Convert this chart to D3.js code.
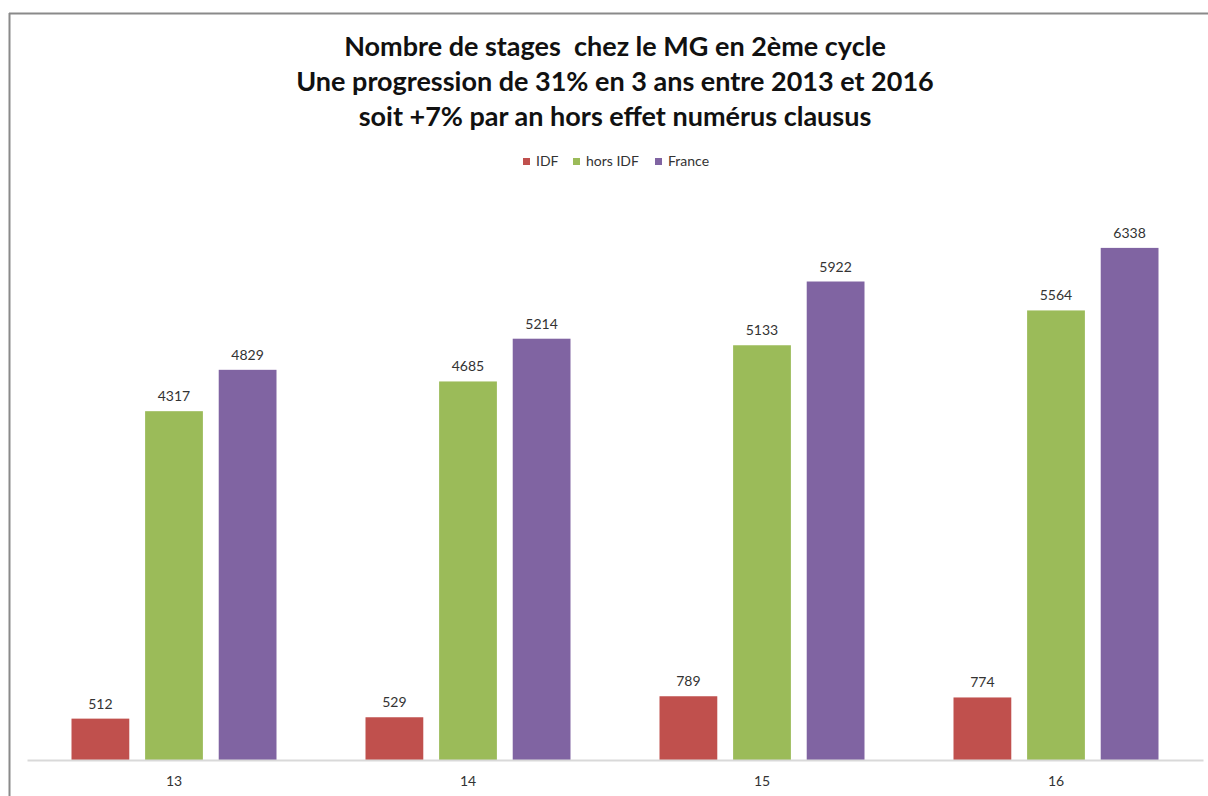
<!DOCTYPE html>
<html>
<head>
<meta charset="utf-8">
<script src="https://cdn.jsdelivr.net/npm/d3@7"></script>
<style>
  body { margin: 0; background: #fff; }
  svg { display: block; }
  text { font-family: Lato, "Open Sans", sans-serif; }
</style>
</head>
<body>
<div id="graph"></div>
<script>
// data
var categories = ['13', '14', '15', '16'];
var seriesNames = ['IDF', 'hors IDF', 'France'];
var seriesColors = ['#C0504D', '#9BBB59', '#8064A2'];
var idf = [512, 529, 789, 774];
var horsIdf = [4317, 4685, 5133, 5564];
var france = [4829, 5214, 5922, 6338];
var titleLines = [
    'Nombre de stages  chez le MG en 2ème cycle',
    'Une progression de 31% en 3 ans entre 2013 et 2016',
    'soit +7% par an hors effet numérus clausus'
];

var width = 1208, height = 796;
var seriesValues = [idf, horsIdf, france];

var svg = d3.select('#graph')
            .append('svg')
            .attr('width', width)
            .attr('height', height);

// frame lines (top and left)
svg.append('line')
   .attr('x1', 9).attr('y1', 13.5).attr('x2', width).attr('y2', 13.5)
   .style('stroke', '#8a8a8a').style('stroke-width', 2);
svg.append('line')
   .attr('x1', 9.5).attr('y1', 13).attr('x2', 9.5).attr('y2', height)
   .style('stroke', '#8a8a8a').style('stroke-width', 2);

// title
svg.append('g')
   .selectAll('text')
   .data(titleLines)
   .enter()
   .append('text')
   .attr('x', 615)
   .attr('y', function(d, i) { return 56 + i * 35; })
   .attr('text-anchor', 'middle')
   .style('white-space', 'pre')
   .style('font-size', '27px')
   .style('font-weight', 'bold')
   .style('fill', '#111')
   .text(function(d) { return d; });

// scales
var xScale = d3.scaleBand()
               .domain(categories)
               .range([27, 1203]);

var xInner = d3.scaleBand()
               .domain(seriesNames)
               .range([44.5, xScale.bandwidth() - 44.5])
               .paddingInner(0.215);

var yScale = d3.scaleLinear()
               .domain([0, 7000])
               .range([760, 194.4]);

// bars
var groups = svg.append('g')
                .selectAll('g')
                .data(categories)
                .enter()
                .append('g')
                .attr('transform', function(d) { return 'translate(' + xScale(d) + ',0)'; });

var cells = groups.selectAll('g')
                  .data(function(d, ci) {
                      return seriesNames.map(function(s, si) {
                          return { series: s, si: si, value: seriesValues[si][ci] };
                      });
                  })
                  .enter()
                  .append('g');

cells.append('rect')
     .attr('x', function(d) { return xInner(d.series); })
     .attr('y', function(d) { return yScale(d.value); })
     .attr('width', xInner.bandwidth())
     .attr('height', function(d) { return yScale(0) - yScale(d.value); })
     .style('fill', function(d) { return seriesColors[d.si]; });

// value labels
cells.append('text')
     .attr('x', function(d) { return xInner(d.series) + xInner.bandwidth() / 2; })
     .attr('y', function(d) { return yScale(d.value) - 10; })
     .attr('text-anchor', 'middle')
     .style('font-size', '14px')
     .style('fill', '#333')
     .text(function(d) { return d.value; });

// x axis
var xAxis = d3.axisBottom()
              .scale(xScale)
              .tickSize(0)
              .tickPadding(16);

var axisG = svg.append('g')
               .attr('transform', 'translate(0,' + yScale(0) + ')')
               .call(xAxis);
axisG.select('.domain').style('stroke', '#d9d9d9').style('stroke-width', 2);
axisG.selectAll('text')
     .style('font-family', 'Lato, "Open Sans", sans-serif')
     .style('font-size', '14px')
     .style('fill', '#333');

// legend
var legendX = [523, 573, 655];
var legend = svg.append('g')
                .selectAll('g')
                .data(seriesNames)
                .enter()
                .append('g')
                .attr('transform', function(d, i) { return 'translate(' + legendX[i] + ',158)'; });

legend.append('rect')
      .attr('width', 7).attr('height', 7)
      .style('fill', function(d, i) { return seriesColors[i]; });

legend.append('text')
      .attr('x', 13)
      .attr('y', 8)
      .style('font-size', '14px')
      .style('fill', '#333')
      .text(function(d) { return d; });
</script>
</body>
</html>
